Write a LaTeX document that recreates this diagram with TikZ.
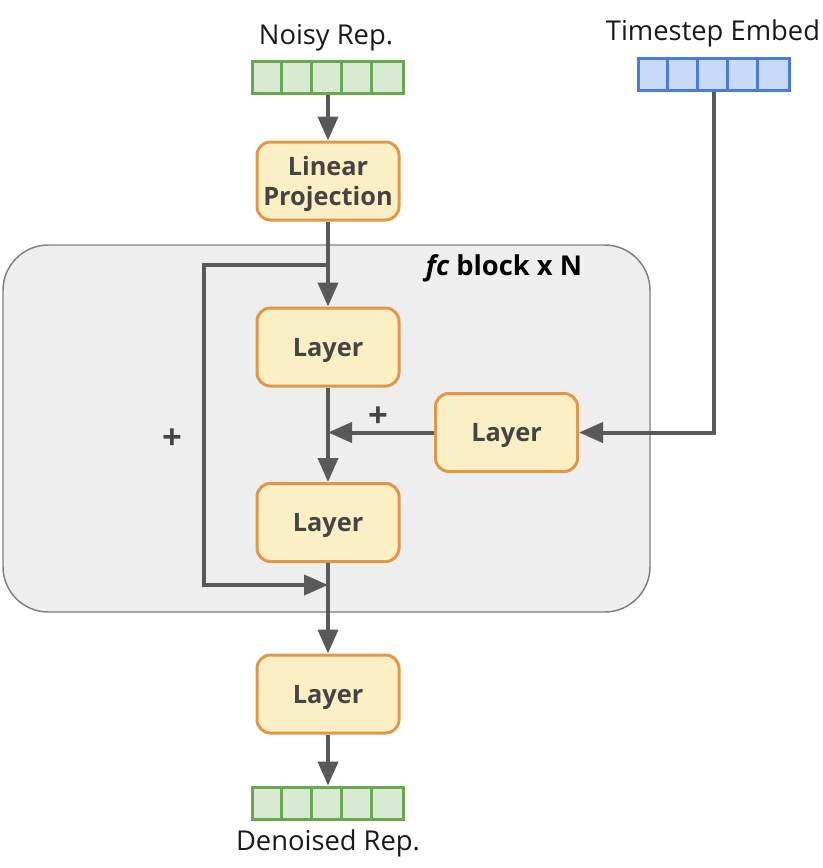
\documentclass[tikz,border=0pt]{standalone}
\usepackage{fontspec}
\setmainfont{Open Sans}
\usetikzlibrary{arrows.meta}
\definecolor{vecgreen}{HTML}{6AA84F}
\definecolor{vecgreenfill}{HTML}{D9EAD3}
\definecolor{vecblue}{HTML}{4A7BD6}
\definecolor{vecbluefill}{HTML}{C9DAF8}
\definecolor{boxedge}{HTML}{E0974A}
\definecolor{boxfill}{HTML}{FCEFC4}
\definecolor{boxtext}{HTML}{444444}
\definecolor{flowgray}{HTML}{595959}
\definecolor{blockfill}{HTML}{EEEEEE}
\definecolor{blockedge}{HTML}{808080}
\begin{document}
\begin{tikzpicture}[x=0.75pt,y=-0.75pt,
  layerbox/.style={draw=boxedge, fill=boxfill, line width=2.25pt, rounded corners=10pt,
    minimum width=106.5pt, minimum height=58.5pt, inner sep=0pt, align=center,
    text depth=0pt, text=boxtext, font=\bfseries\fontsize{19}{22}\selectfont},
  vecbar/.style={draw=#1, line width=2.25pt, minimum width=113.25pt, minimum height=24pt, inner sep=0pt},
  lbl/.style={text=black!90, font=\fontsize{20.5}{24}\selectfont},
  plusmark/.style={text=boxtext, font=\bfseries\fontsize{26}{30}\selectfont},
  flow/.style={draw=flowgray, line width=3pt, -{Triangle[length=18pt,width=15pt]}},
  bigblock/.style={draw=blockedge, fill=blockfill, line width=1.1pt, rounded corners=34pt,
    minimum width=485.25pt, minimum height=275.25pt, inner sep=0pt}
]
\useasboundingbox (0,0) rectangle (822,868);

% repeated fc block
\node[bigblock] (block) at (326.5,428.5) {};
\node[font=\bfseries\fontsize{20.5}{24}\selectfont, text=black] (blocklbl) at (504,268) {\itshape fc\upshape\ block x N};

% input / output vectors
\node[vecbar=vecgreen, fill=vecgreenfill] (noisy) at (328,77) {};
\node[vecbar=vecblue, fill=vecbluefill] (ts) at (714,74) {};
\node[vecbar=vecgreen, fill=vecgreenfill] (den) at (328,803) {};
\foreach \v/\c in {noisy/vecgreen, ts/vecblue, den/vecgreen}{
  \foreach \i in {1,...,4}{
    \draw[draw=\c, line width=2.25pt] ([xshift=\i*22.65pt]\v.north west) -- ([xshift=\i*22.65pt]\v.south west);
  }
}
\node[lbl] (noisylbl) at (326,38) {Noisy Rep.};
\node[lbl] (tslbl) at (713,33) {Timestep Embed};
\node[lbl] (denlbl) at (328,843) {Denoised Rep.};

% layers
\node[layerbox] (lp) at (328,181) {Linear\\Projection};
\node[layerbox] (l1) at (328,347) {Layer};
\node[layerbox] (lr) at (506.5,432.5) {Layer};
\node[layerbox] (l2) at (328,522.5) {Layer};
\node[layerbox] (l3) at (328,694) {Layer};

% connectors
\coordinate (skiptop) at (204,265);
\coordinate (skipbot) at (204,585);
\draw[flow] (noisy.south) -- (lp.north);
\draw[flow] (lp.south) -- (l1.north);
\draw[flow] (lp.south |- skiptop) -- (skiptop) -- (skipbot) -- (l2.south |- skipbot);
\draw[flow] (l1.south) -- (l2.north);
\draw[flow] (lr.west) -- (l1.south |- lr.west);
\draw[flow] (ts.south) -- (ts.south |- lr.east) -- (lr.east);
\draw[flow] (l2.south) -- (l3.north);
\draw[flow] (l3.south) -- (den.north);

% residual markers
\node[plusmark] (plusin) at (378,417) {+};
\node[plusmark] (plusskip) at (172,439) {+};
\end{tikzpicture}
\end{document}
